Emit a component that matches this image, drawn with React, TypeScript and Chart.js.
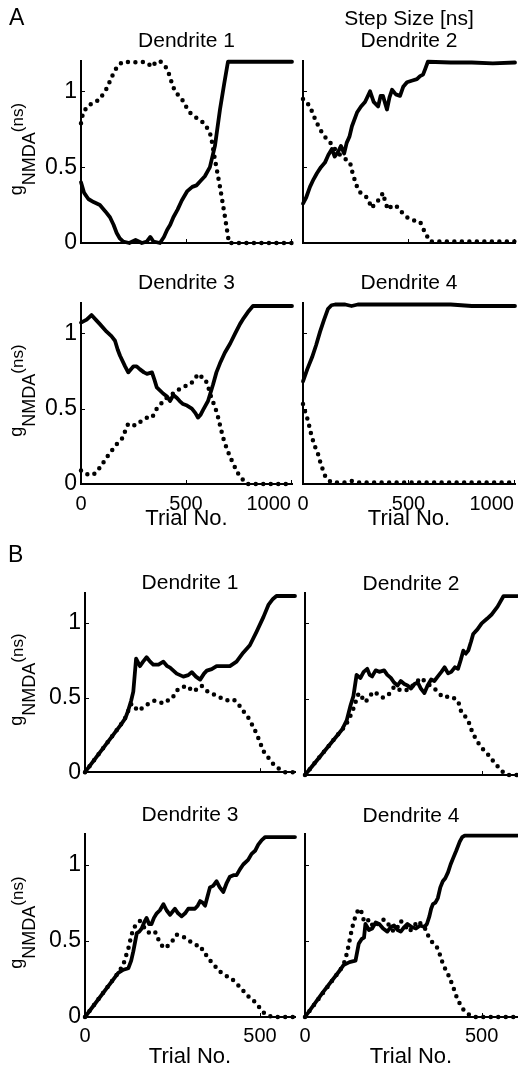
import React, { useEffect, useRef } from "react";
import { Chart, registerables } from "chart.js";
Chart.register(...registerables);

type Pt = [number, number];
const FONT = '"Liberation Sans", Arial, Helvetica, sans-serif';

// ---------- data ----------
const Y_TICKS = [0, 0.5, 1];
const X_TICKS_A = [0, 500, 1000];
const X_TICKS_B = [0, 500];
const X_MAX_A = 1005;
const X_MAX_B = 600;
const Y_MAX = 1.2;
const X_TITLE = "Trial No.";
const Y_TITLE = ["g", "NMDA", "(ns)"];
const TITLES_A1 = ["Dendrite 1"];
const TITLES_A2 = ["Step Size [ns]", "Dendrite 2"];
const TITLES_A3 = ["Dendrite 3"];
const TITLES_A4 = ["Dendrite 4"];
const TITLES_B1 = ["Dendrite 1"];
const TITLES_B2 = ["Dendrite 2"];
const TITLES_B3 = ["Dendrite 3"];
const TITLES_B4 = ["Dendrite 4"];

const A_D1_SOLID: Pt[] = [[0,0.40],[15,0.33],[35,0.29],[60,0.27],[90,0.25],[115,0.21],[138,0.17],[155,0.12],[170,0.066],[185,0.03],[200,0.01],[230,0.0],[260,0.02],[290,0.0],[314,0.01],[330,0.04],[345,0.01],[376,0.0],[395,0.04],[410,0.086],[425,0.12],[440,0.17],[460,0.22],[480,0.28],[505,0.34],[530,0.37],[550,0.38],[570,0.41],[590,0.44],[614,0.50],[638,0.64],[662,0.88],[682,1.05],[700,1.195],[800,1.195],[900,1.195],[1005,1.195]];
const A_D1_DOT: Pt[] = [[0,0.79],[10,0.86],[35,0.91],[60,0.92],[90,0.95],[123,1.02],[145,1.09],[162,1.14],[185,1.18],[200,1.195],[250,1.19],[290,1.195],[314,1.19],[338,1.16],[355,1.19],[376,1.2],[395,1.17],[410,1.15],[425,1.09],[438,1.03],[460,0.98],[480,0.95],[500,0.90],[519,0.86],[545,0.83],[567,0.81],[585,0.79],[600,0.76],[615,0.72],[622,0.68],[638,0.55],[662,0.37],[686,0.17],[705,0.0],[800,0],[900,0],[1005,0]];
const A_D2_SOLID: Pt[] = [[0,0.26],[15,0.30],[33,0.37],[50,0.42],[66,0.46],[85,0.50],[104,0.53],[120,0.58],[137,0.62],[150,0.57],[166,0.60],[180,0.64],[195,0.59],[207,0.66],[220,0.70],[232,0.77],[256,0.86],[275,0.90],[294,0.93],[318,1.0],[335,0.93],[356,0.90],[368,0.97],[379,0.97],[398,0.88],[410,0.96],[422,1.01],[440,0.98],[460,0.97],[475,1.03],[493,1.06],[515,1.07],[540,1.08],[555,1.10],[569,1.11],[580,1.15],[592,1.195],[700,1.19],[800,1.19],[900,1.185],[1005,1.19]];
const A_D2_DOT: Pt[] = [[0,0.95],[15,0.93],[33,0.90],[50,0.84],[66,0.79],[85,0.74],[104,0.70],[125,0.67],[142,0.64],[160,0.60],[185,0.57],[205,0.55],[223,0.53],[237,0.45],[261,0.35],[280,0.32],[303,0.30],[327,0.23],[340,0.26],[356,0.28],[379,0.33],[390,0.27],[403,0.22],[425,0.25],[445,0.24],[470,0.20],[493,0.17],[520,0.15],[555,0.14],[578,0.07],[602,0.01],[700,0.01],[800,0.01],[900,0.01],[1005,0.01]];
const A_D3_SOLID: Pt[] = [[0,1.07],[27,1.09],[50,1.12],[70,1.09],[90,1.06],[122,1.01],[145,0.98],[162,0.95],[175,0.89],[186,0.85],[210,0.78],[225,0.74],[250,0.78],[265,0.78],[281,0.76],[300,0.74],[314,0.73],[338,0.74],[350,0.69],[361,0.64],[391,0.60],[410,0.58],[424,0.55],[440,0.59],[457,0.57],[470,0.55],[486,0.53],[505,0.52],[528,0.50],[545,0.47],[557,0.44],[570,0.46],[581,0.49],[605,0.55],[629,0.66],[645,0.74],[662,0.80],[685,0.87],[710,0.93],[735,1.0],[757,1.06],[775,1.10],[795,1.14],[819,1.18],[900,1.18],[1005,1.18]];
const A_D3_DOT: Pt[] = [[0,0.09],[19,0.07],[40,0.06],[57,0.06],[75,0.08],[90,0.11],[105,0.14],[124,0.18],[140,0.21],[162,0.25],[180,0.28],[195,0.30],[210,0.35],[225,0.40],[245,0.39],[266,0.39],[280,0.41],[295,0.42],[315,0.44],[338,0.44],[350,0.47],[361,0.50],[375,0.52],[391,0.55],[415,0.58],[440,0.60],[460,0.62],[480,0.64],[500,0.65],[519,0.66],[540,0.69],[557,0.73],[575,0.71],[590,0.70],[605,0.65],[614,0.60],[630,0.54],[648,0.47],[662,0.39],[676,0.31],[693,0.24],[710,0.18],[730,0.12],[748,0.07],[770,0.03],[790,0.0],[900,0.0],[1005,0.0]];
const A_D4_SOLID: Pt[] = [[0,0.68],[20,0.76],[43,0.84],[62,0.92],[81,1.01],[100,1.09],[118,1.16],[135,1.185],[152,1.19],[200,1.19],[230,1.18],[260,1.19],[400,1.19],[600,1.19],[700,1.19],[800,1.18],[900,1.18],[1005,1.18]];
const A_D4_DOT: Pt[] = [[0,0.53],[12,0.47],[24,0.42],[35,0.35],[47,0.29],[59,0.24],[71,0.20],[83,0.14],[95,0.09],[106,0.05],[118,0.03],[135,0.01],[160,0.01],[200,0.01],[230,0.02],[260,0.01],[500,0.01],[700,0.01],[1005,0.01]];

const B_D1_SOLID: Pt[] = [[0,0],[100,0.31],[115,0.36],[123,0.41],[132,0.48],[138,0.54],[146,0.76],[157,0.71],[166,0.74],[176,0.77],[186,0.74],[195,0.72],[210,0.72],[224,0.74],[235,0.71],[243,0.70],[262,0.66],[281,0.64],[295,0.65],[305,0.67],[317,0.64],[329,0.62],[340,0.66],[348,0.68],[362,0.69],[376,0.71],[395,0.71],[414,0.71],[433,0.74],[452,0.80],[471,0.85],[490,0.94],[510,1.04],[524,1.12],[537,1.16],[547,1.18],[600,1.18]];
const B_D1_DOT: Pt[] = [[0,0],[100,0.31],[114,0.36],[133,0.46],[152,0.41],[164,0.43],[176,0.45],[188,0.47],[200,0.48],[212,0.47],[224,0.46],[236,0.48],[248,0.49],[258,0.53],[267,0.56],[280,0.57],[290,0.58],[300,0.56],[310,0.54],[322,0.56],[333,0.58],[345,0.55],[357,0.53],[369,0.52],[381,0.51],[393,0.49],[405,0.48],[417,0.49],[429,0.48],[440,0.45],[452,0.41],[462,0.38],[471,0.35],[481,0.30],[490,0.26],[500,0.20],[510,0.14],[520,0.11],[529,0.08],[543,0.04],[557,0.02],[572,0.0],[600,0]];
const B_D2_SOLID: Pt[] = [[0,0],[105,0.30],[118,0.36],[129,0.46],[137,0.52],[146,0.66],[157,0.64],[166,0.68],[176,0.70],[183,0.66],[190,0.65],[200,0.69],[210,0.68],[224,0.69],[233,0.66],[243,0.64],[252,0.61],[262,0.59],[271,0.62],[281,0.60],[290,0.59],[300,0.57],[310,0.60],[319,0.61],[328,0.57],[338,0.54],[347,0.59],[357,0.63],[366,0.62],[376,0.65],[386,0.68],[395,0.71],[405,0.67],[414,0.68],[424,0.71],[433,0.70],[441,0.76],[448,0.82],[455,0.80],[462,0.82],[470,0.88],[476,0.93],[488,0.96],[500,1.0],[515,1.03],[529,1.06],[545,1.11],[562,1.18],[600,1.18]];
const B_D2_DOT: Pt[] = [[0,0],[105,0.30],[114,0.32],[124,0.37],[133,0.41],[143,0.48],[152,0.54],[162,0.51],[171,0.48],[183,0.52],[195,0.55],[207,0.53],[219,0.51],[233,0.52],[243,0.55],[252,0.58],[264,0.56],[276,0.57],[288,0.56],[300,0.58],[314,0.61],[329,0.64],[338,0.62],[348,0.60],[360,0.58],[371,0.56],[383,0.53],[395,0.51],[407,0.52],[419,0.51],[433,0.49],[443,0.41],[452,0.39],[462,0.36],[469,0.31],[476,0.27],[488,0.22],[500,0.18],[512,0.15],[524,0.12],[536,0.08],[548,0.05],[560,0.02],[571,0.0],[600,0]];
const B_D3_SOLID: Pt[] = [[0,0],[95,0.29],[110,0.31],[124,0.32],[132,0.37],[138,0.43],[148,0.55],[155,0.56],[162,0.58],[169,0.62],[176,0.65],[183,0.61],[190,0.61],[197,0.65],[205,0.68],[214,0.70],[224,0.74],[233,0.70],[243,0.67],[250,0.69],[257,0.71],[266,0.68],[276,0.66],[286,0.68],[295,0.71],[305,0.71],[314,0.71],[322,0.73],[329,0.76],[336,0.75],[343,0.73],[350,0.79],[357,0.85],[366,0.86],[376,0.89],[385,0.85],[395,0.82],[405,0.88],[414,0.92],[424,0.93],[433,0.93],[443,0.97],[452,1.0],[466,1.03],[476,1.07],[486,1.09],[495,1.13],[505,1.16],[515,1.18],[600,1.18]];
const B_D3_DOT: Pt[] = [[0,0],[95,0.29],[109,0.34],[117,0.40],[124,0.45],[131,0.52],[138,0.58],[148,0.61],[157,0.63],[166,0.60],[176,0.56],[188,0.55],[200,0.56],[207,0.52],[214,0.49],[222,0.46],[229,0.45],[238,0.47],[248,0.49],[255,0.52],[262,0.54],[274,0.53],[286,0.52],[298,0.50],[310,0.48],[320,0.47],[329,0.47],[338,0.43],[348,0.40],[357,0.37],[367,0.35],[379,0.31],[390,0.29],[402,0.27],[414,0.26],[424,0.24],[433,0.22],[445,0.19],[457,0.16],[469,0.13],[481,0.11],[491,0.08],[500,0.06],[510,0.03],[522,0.01],[535,0],[600,0]];
const B_D4_SOLID: Pt[] = [[0,0],[50,0.16],[100,0.31],[109,0.34],[126,0.36],[143,0.37],[152,0.48],[160,0.51],[167,0.52],[171,0.61],[181,0.57],[190,0.58],[200,0.62],[210,0.61],[221,0.58],[233,0.56],[243,0.59],[252,0.60],[262,0.57],[271,0.56],[281,0.59],[290,0.61],[302,0.59],[314,0.58],[326,0.60],[338,0.59],[345,0.61],[352,0.66],[357,0.71],[362,0.74],[369,0.75],[376,0.78],[383,0.85],[390,0.89],[397,0.91],[405,0.95],[412,1.0],[419,1.04],[428,1.09],[438,1.15],[445,1.18],[452,1.19],[600,1.19]];
const B_D4_DOT: Pt[] = [[0,0],[100,0.31],[110,0.35],[119,0.42],[126,0.50],[133,0.58],[140,0.64],[148,0.69],[157,0.71],[162,0.67],[167,0.63],[174,0.62],[181,0.64],[188,0.61],[195,0.59],[205,0.61],[214,0.63],[224,0.64],[233,0.62],[243,0.58],[252,0.56],[262,0.59],[271,0.63],[283,0.60],[295,0.56],[307,0.59],[319,0.63],[329,0.61],[338,0.59],[347,0.54],[357,0.50],[367,0.47],[376,0.45],[383,0.40],[390,0.35],[398,0.31],[405,0.28],[412,0.24],[419,0.20],[426,0.15],[433,0.11],[440,0.08],[448,0.05],[457,0.03],[467,0.01],[480,0],[600,0]];

// ---------- layout ----------
interface PanelSpec {
  box: [number, number, number, number]; // canvas left, top, width, height (page px)
  area: [number, number, number, number]; // chart area left, top, right, bottom (page px)
  titles: string[];
  titleOff: number[];
  solid: Pt[];
  dotted: Pt[];
  xMax: number;
  xTicks: number[];
  lastRight: boolean;
  xLabels: boolean;
  xLabelOff: number;
  xTitleOff: number;
  yLabels: boolean;
  section?: { text: string; x: number; y: number };
}

const PANELS: PanelSpec[] = [
  { box: [0, 0, 300, 262], area: [81, 61, 292, 243], titles: TITLES_A1, titleOff: [14], solid: A_D1_SOLID, dotted: A_D1_DOT, xMax: X_MAX_A, xTicks: X_TICKS_A, lastRight: true, xLabels: false, xLabelOff: 0, xTitleOff: 0, yLabels: true, section: { text: "A", x: 9, y: 25 } },
  { box: [296, 0, 222, 262], area: [303, 61, 515, 243], titles: TITLES_A2, titleOff: [36.5, 14], solid: A_D2_SOLID, dotted: A_D2_DOT, xMax: X_MAX_A, xTicks: X_TICKS_A, lastRight: true, xLabels: false, xLabelOff: 0, xTitleOff: 0, yLabels: false },
  { box: [0, 262, 300, 278], area: [81, 303, 292, 484], titles: TITLES_A3, titleOff: [14.5], solid: A_D3_SOLID, dotted: A_D3_DOT, xMax: X_MAX_A, xTicks: X_TICKS_A, lastRight: true, xLabels: true, xLabelOff: 26, xTitleOff: 41, yLabels: true },
  { box: [296, 262, 222, 278], area: [303, 303, 515, 484], titles: TITLES_A4, titleOff: [14.5], solid: A_D4_SOLID, dotted: A_D4_DOT, xMax: X_MAX_A, xTicks: X_TICKS_A, lastRight: true, xLabels: true, xLabelOff: 26, xTitleOff: 41, yLabels: false },
  { box: [0, 540, 300, 250], area: [85, 593, 295, 775], titles: TITLES_B1, titleOff: [4], solid: B_D1_SOLID, dotted: B_D1_DOT, xMax: X_MAX_B, xTicks: X_TICKS_B, lastRight: false, xLabels: false, xLabelOff: 0, xTitleOff: 0, yLabels: true, section: { text: "B", x: 8, y: 562 } },
  { box: [296, 540, 222, 250], area: [305, 593, 517, 775], titles: TITLES_B2, titleOff: [3], solid: B_D2_SOLID, dotted: B_D2_DOT, xMax: X_MAX_B, xTicks: X_TICKS_B, lastRight: false, xLabels: false, xLabelOff: 0, xTitleOff: 0, yLabels: false },
  { box: [0, 790, 300, 277], area: [85, 834, 295, 1017], titles: TITLES_B3, titleOff: [13], solid: B_D3_SOLID, dotted: B_D3_DOT, xMax: X_MAX_B, xTicks: X_TICKS_B, lastRight: false, xLabels: true, xLabelOff: 25, xTitleOff: 46, yLabels: true },
  { box: [296, 790, 222, 277], area: [305, 834, 517, 1017], titles: TITLES_B4, titleOff: [12], solid: B_D4_SOLID, dotted: B_D4_DOT, xMax: X_MAX_B, xTicks: X_TICKS_B, lastRight: false, xLabels: true, xLabelOff: 25, xTitleOff: 46, yLabels: false },
];

function Panel({ spec }: { spec: PanelSpec }) {
  const ref = useRef<HTMLCanvasElement>(null);
  useEffect(() => {
    if (!ref.current) return;
    const [cl, ct, cw, ch] = spec.box;
    const [al, at, ar, ab] = spec.area;

    const decor = {
      id: "panelDecor",
      afterDraw(chart: any) {
        const { ctx, chartArea, scales } = chart;
        const xs = scales.x;
        const ys = scales.y;
        ctx.save();
        ctx.strokeStyle = "#000";
        ctx.fillStyle = "#000";
        ctx.lineWidth = 1;
        // inward tick marks
        for (const v of Y_TICKS) {
          if (v === 0) continue;
          const py = Math.round(ys.getPixelForValue(v)) + 0.5;
          ctx.beginPath();
          ctx.moveTo(chartArea.left, py);
          ctx.lineTo(chartArea.left + 4, py);
          ctx.stroke();
        }
        for (const v of spec.xTicks) {
          if (v === 0) continue;
          const px = Math.round(xs.getPixelForValue(v)) + 0.5;
          ctx.beginPath();
          ctx.moveTo(px, chartArea.bottom);
          ctx.lineTo(px, chartArea.bottom - 4);
          ctx.stroke();
        }
        const cx = (chartArea.left + chartArea.right) / 2;
        ctx.textBaseline = "alphabetic";
        // titles
        ctx.font = `21px ${FONT}`;
        ctx.textAlign = "center";
        spec.titles.forEach((t, i) => ctx.fillText(t, cx, chartArea.top - spec.titleOff[i]));
        // x tick labels + title
        if (spec.xLabels) {
          ctx.font = `20px ${FONT}`;
          spec.xTicks.forEach((v, i) => {
            const px = xs.getPixelForValue(v);
            ctx.textAlign = spec.lastRight && i === spec.xTicks.length - 1 ? "right" : "center";
            ctx.fillText(String(v), px, chartArea.bottom + spec.xLabelOff);
          });
          ctx.font = `22px ${FONT}`;
          ctx.textAlign = "center";
          ctx.fillText(X_TITLE, cx, chartArea.bottom + spec.xTitleOff);
        }
        // section letter
        if (spec.section) {
          ctx.font = `23px ${FONT}`;
          ctx.textAlign = "left";
          ctx.fillText(spec.section.text, spec.section.x - cl, spec.section.y - ct);
        }
        // y title with sub/superscript
        if (spec.yLabels) {
          const parts = [
            { t: Y_TITLE[0], size: 18, dy: 0 },
            { t: Y_TITLE[1], size: 18, dy: 13 },
            { t: Y_TITLE[2], size: 17, dy: 1 },
          ];
          let total = 0;
          const widths = parts.map((p) => {
            ctx.font = `${p.size}px ${FONT}`;
            const w = ctx.measureText(p.t).width;
            total += w;
            return w;
          });
          ctx.translate(22 - cl, (chartArea.top + chartArea.bottom) / 2 - 3);
          ctx.rotate(-Math.PI / 2);
          ctx.textAlign = "left";
          let u = -total / 2;
          parts.forEach((p, i) => {
            ctx.font = `${p.size}px ${FONT}`;
            ctx.fillText(p.t, u, p.dy);
            u += widths[i];
          });
        }
        ctx.restore();
      },
    };

    const chart = new Chart(ref.current, {
      type: "line",
      data: {
        datasets: [
          {
            data: spec.dotted.map(([x, y]) => ({ x, y })),
            borderColor: "#000",
            borderWidth: 4.5,
            borderDash: [0, 7.5],
            borderCapStyle: "round",
            pointRadius: 0,
            tension: 0,
            clip: false,
          },
          {
            data: spec.solid.map(([x, y]) => ({ x, y })),
            borderColor: "#000",
            borderWidth: 3.8,
            borderJoinStyle: "round",
            borderCapStyle: "round",
            pointRadius: 0,
            tension: 0,
            clip: false,
          },
        ],
      } as any,
      options: {
        animation: false,
        responsive: false,
        maintainAspectRatio: false,
        events: [],
        layout: { padding: { left: 0, top: at - ct, right: cl + cw - ar, bottom: ct + ch - ab } },
        plugins: { legend: { display: false }, tooltip: { enabled: false }, title: { display: false } },
        scales: {
          x: {
            type: "linear",
            min: 0,
            max: spec.xMax,
            grid: { display: false, drawTicks: false },
            border: { display: true, color: "#000", width: 2 },
            ticks: { display: false },
            afterBuildTicks: (s: any) => { s.ticks = spec.xTicks.map((v) => ({ value: v })); },
            afterFit: (s: any) => { s.height = 0; },
          },
          y: {
            type: "linear",
            min: 0,
            max: Y_MAX,
            grid: { display: false, drawTicks: false },
            border: { display: true, color: "#000", width: 2 },
            ticks: {
              display: spec.yLabels,
              padding: 4,
              color: "#000",
              font: { family: FONT, size: 23 },
              callback: (v: any) => String(v),
            },
            afterBuildTicks: (s: any) => { s.ticks = Y_TICKS.map((v) => ({ value: v })); },
            afterFit: (s: any) => { s.width = al - cl; },
          },
        },
      } as any,
      plugins: [decor],
    });
    return () => chart.destroy();
  }, [spec]);

  const [cl, ct, cw, ch] = spec.box;
  return (
    <canvas
      ref={ref}
      width={cw}
      height={ch}
      style={{ position: "absolute", left: cl, top: ct, width: cw, height: ch }}
    />
  );
}

export default function App() {
  return (
    <div style={{ position: "absolute", left: 0, top: 0, width: 518, height: 1067, background: "#fff", overflow: "hidden" }}>
      {PANELS.map((p, i) => (
        <Panel key={i} spec={p} />
      ))}
    </div>
  );
}
